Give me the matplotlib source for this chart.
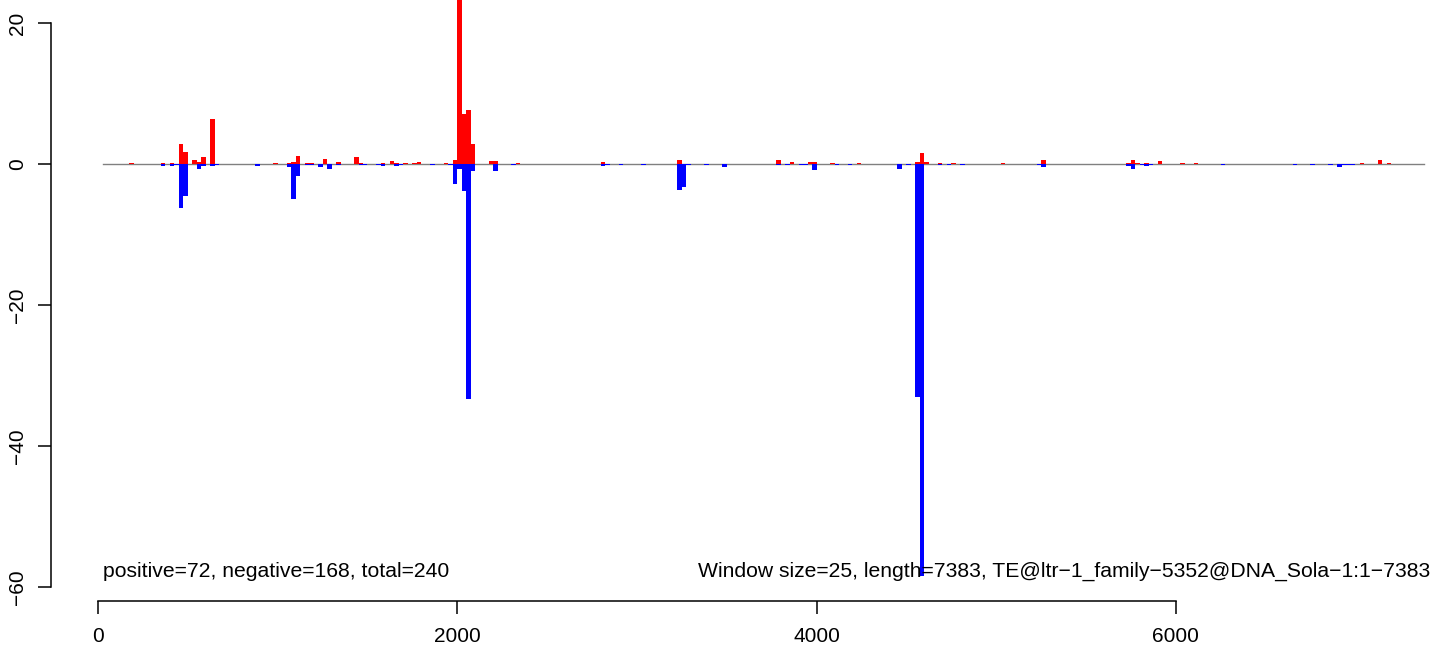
import matplotlib.pyplot as plt

plt.rcParams['font.family'] = ['Liberation Sans', 'DejaVu Sans']

# window start positions and summed signal (window size 25)
pos_start = [175, 350, 400, 450, 475, 525, 550, 575, 625, 975, 1050, 1075, 1100,
             1150, 1175, 1250, 1325, 1425, 1450, 1575, 1625, 1650, 1700, 1750, 1775,
             1925, 1975, 2000, 2025, 2050, 2075, 2175, 2200, 2325, 2800, 3225, 3775,
             3850, 3950, 3975, 4075, 4225, 4550, 4575, 4600, 4675, 4750, 5025, 5250,
             5725, 5750, 5775, 5825, 5900, 6025, 6100, 7025, 7125, 7175]
pos_value = [0.15, 0.15, 0.15, 2.9, 1.7, 0.55, 0.3, 1.0, 6.4, 0.15, 0.2, 0.3, 1.1,
             0.15, 0.2, 0.65, 0.3, 0.95, 0.15, 0.2, 0.4, 0.15, 0.15, 0.15, 0.3,
             0.15, 0.6, 26, 7.1, 7.7, 2.9, 0.45, 0.45, 0.15, 0.3, 0.5, 0.6,
             0.25, 0.25, 0.25, 0.15, 0.15, 0.3, 1.6, 0.3, 0.15, 0.15, 0.15, 0.5,
             0.15, 0.5, 0.15, 0.15, 0.35, 0.15, 0.15, 0.15, 0.5, 0.15]

neg_start = [350, 400, 425, 450, 475, 550, 575, 625, 650, 875, 1050, 1075, 1100,
             1150, 1175, 1225, 1275, 1325, 1450, 1475, 1550, 1575, 1650, 1675, 1850,
             1950, 1975, 2000, 2025, 2050, 2075, 2200, 2300, 2800, 2825, 2900, 3025,
             3225, 3250, 3275, 3375, 3475, 3775, 3825, 3900, 3925, 3975, 4100, 4175,
             4450, 4500, 4550, 4575, 4675, 4725, 4800, 5225, 5250, 5725, 5750, 5800,
             5825, 5850, 6250, 6650, 6750, 6850, 6900, 6925, 6950, 6975]
neg_value = [-0.3, -0.3, -0.15, -6.3, -4.5, -0.65, -0.3, -0.3, -0.15, -0.3, -0.4, -5.0, -1.7,
             -0.2, -0.2, -0.4, -0.65, -0.15, -0.15, -0.15, -0.2, -0.3, -0.3, -0.15, -0.15,
             -0.15, -2.8, -0.7, -3.8, -33.4, -0.95, -1.0, -0.15, -0.35, -0.1, -0.15, -0.15,
             -3.7, -3.25, -0.15, -0.15, -0.4, -0.15, -0.2, -0.15, -0.15, -0.8, -0.15, -0.15,
             -0.7, -0.15, -33.0, -58.5, -0.2, -0.15, -0.2, -0.15, -0.4, -0.35, -0.65, -0.15,
             -0.35, -0.2, -0.15, -0.15, -0.15, -0.15, -0.4, -0.2, -0.2, -0.15]

window = 25
length = 7383
x_ticks = [0, 2000, 4000, 6000]
y_ticks = [-60, -40, -20, 0, 20]

fig = plt.figure(figsize=(14.33, 6.48), dpi=100)
ax = fig.add_axes([51 / 1433, 47 / 648, 1382 / 1433, 601 / 648])

ax.plot([window, length], [0, 0], color='#808080', lw=1, zorder=1)
ax.bar(pos_start, pos_value, width=window, align='edge', color='red', linewidth=0, zorder=2)
ax.bar(neg_start, neg_value, width=window, align='edge', color='blue', linewidth=0, zorder=2)

ax.set_xlim(-262, 7432)
ax.set_ylim(-62, 23.26)

for s in ['top', 'right']:
    ax.spines[s].set_visible(False)
ax.spines['left'].set_bounds(-60, 20)
ax.spines['bottom'].set_bounds(0, 6000)
for s in ['left', 'bottom']:
    ax.spines[s].set_linewidth(1.1)

ax.set_xticks(x_ticks)
ax.set_yticks(y_ticks)
ax.tick_params(axis='both', length=9.5, width=1.1, labelsize=15, direction='out')
ax.tick_params(axis='x', pad=9)
ax.tick_params(axis='y', pad=8)
for lab in ax.get_yticklabels():
    lab.set_rotation(90)
    lab.set_va('center')

ax.text(25, -58.6, 'positive=72, negative=168, total=240', fontsize=15.2,
        ha='left', va='baseline')
ax.text(7415, -58.6, 'Window size=25, length=7383, TE@ltr\u22121_family\u22125352@DNA_Sola\u22121:1\u22127383',
        fontsize=15.2, ha='right', va='baseline')

fig.savefig('out.png', dpi=100)
